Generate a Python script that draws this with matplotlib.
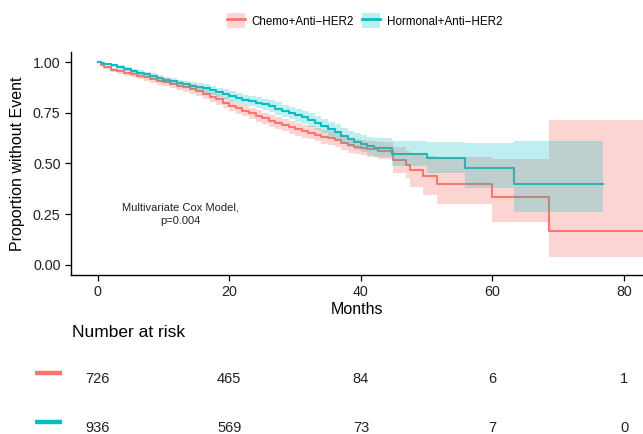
"""Kaplan-Meier style curves with a number-at-risk table."""

import matplotlib

matplotlib.use("Agg")

import matplotlib.pyplot as plt
from matplotlib.lines import Line2D
from matplotlib.patches import Patch

plt.rcParams["font.family"] = ["Liberation Sans", "DejaVu Sans"]

RED = "#F8766D"
TEAL = "#00BFC4"

groups = ["Chemo+Anti\u2212HER2", "Hormonal+Anti\u2212HER2"]

red_time = [0, 0.5, 1, 2, 3, 4, 5, 6, 7, 8, 9, 10, 11, 12, 13, 14, 15, 16, 17, 18,
            19, 20, 21, 22, 23, 24, 25, 26, 27, 28, 29, 30, 31, 32, 33, 34, 35, 36,
            37, 38, 39, 40, 41, 42.6, 44.9, 46.9, 47.5, 49.5, 51.5, 60, 68.6, 83]
red_surv = [1.0, 0.985, 0.975, 0.963, 0.955, 0.947, 0.94, 0.932, 0.925, 0.917,
            0.908, 0.90, 0.892, 0.884, 0.876, 0.867, 0.856, 0.843, 0.83, 0.816, 0.80,
            0.785, 0.772, 0.76, 0.747, 0.735, 0.722, 0.708, 0.698, 0.69, 0.678, 0.668,
            0.66, 0.652, 0.642, 0.632, 0.624, 0.615, 0.602, 0.59, 0.583, 0.578, 0.572,
            0.562, 0.516, 0.495, 0.47, 0.438, 0.40, 0.334, 0.166, 0.166]
red_lower = [1.0, 0.98, 0.967, 0.953, 0.943, 0.934, 0.926, 0.916, 0.908, 0.899,
             0.889, 0.88, 0.871, 0.862, 0.853, 0.843, 0.832, 0.818, 0.805, 0.79, 0.774,
             0.758, 0.745, 0.732, 0.719, 0.706, 0.693, 0.678, 0.668, 0.659, 0.647,
             0.636, 0.628, 0.619, 0.609, 0.598, 0.59, 0.58, 0.567, 0.554, 0.546, 0.54,
             0.533, 0.52, 0.451, 0.43, 0.386, 0.344, 0.30, 0.21, 0.041, 0.041]
red_upper = [1.0, 0.99, 0.983, 0.973, 0.967, 0.96, 0.954, 0.948, 0.942, 0.935,
             0.927, 0.92, 0.913, 0.906, 0.899, 0.891, 0.88, 0.868, 0.855, 0.842, 0.826,
             0.812, 0.799, 0.788, 0.775, 0.764, 0.751, 0.738, 0.728, 0.721, 0.709, 0.70,
             0.692, 0.685, 0.675, 0.666, 0.658, 0.65, 0.637, 0.626, 0.62, 0.616, 0.611,
             0.604, 0.58, 0.56, 0.55, 0.535, 0.53, 0.52, 0.715, 0.715]

teal_time = [0, 0.5, 1, 2, 3, 4, 5, 6, 7, 8, 9, 10, 11, 12, 13, 14, 15, 16, 17, 18,
             19, 20, 21, 22, 23, 24, 25, 26, 27, 28, 29, 30, 31, 32, 33, 34, 35, 36,
             37, 38, 39, 40, 41, 42, 44.7, 50, 55.9, 63.3, 76.8]
teal_surv = [1.0, 0.996, 0.992, 0.985, 0.975, 0.965, 0.957, 0.948, 0.939, 0.93,
             0.921, 0.912, 0.905, 0.897, 0.89, 0.884, 0.877, 0.87, 0.861, 0.852, 0.842,
             0.832, 0.823, 0.815, 0.808, 0.80, 0.791, 0.782, 0.771, 0.76, 0.749, 0.738,
             0.727, 0.715, 0.70, 0.685, 0.67, 0.655, 0.638, 0.62, 0.608, 0.598, 0.588,
             0.578, 0.549, 0.525, 0.479, 0.397, 0.397]
teal_lower = [1.0, 0.993, 0.986, 0.977, 0.966, 0.955, 0.946, 0.936, 0.926, 0.916,
              0.906, 0.896, 0.889, 0.88, 0.872, 0.865, 0.857, 0.849, 0.84, 0.83, 0.819,
              0.808, 0.799, 0.79, 0.782, 0.773, 0.763, 0.753, 0.741, 0.73, 0.718,
              0.706, 0.694, 0.681, 0.665, 0.649, 0.633, 0.617, 0.599, 0.58, 0.567,
              0.555, 0.543, 0.53, 0.49, 0.451, 0.378, 0.261, 0.261]
teal_upper = [1.0, 0.999, 0.998, 0.993, 0.984, 0.975, 0.968, 0.96, 0.952, 0.944,
              0.936, 0.928, 0.921, 0.914, 0.908, 0.903, 0.897, 0.891, 0.882, 0.874,
              0.865, 0.856, 0.847, 0.84, 0.834, 0.827, 0.819, 0.811, 0.801, 0.79, 0.78,
              0.77, 0.76, 0.749, 0.735, 0.721, 0.707, 0.693, 0.677, 0.66, 0.649, 0.641,
              0.633, 0.626, 0.61, 0.606, 0.60, 0.611, 0.611]

risk_times = [0, 20, 40, 60, 80]
risk_red = [726, 465, 84, 6, 1]
risk_teal = [936, 569, 73, 7, 0]

x_ticks = [0, 20, 40, 60, 80]
y_ticks = [0.0, 0.25, 0.5, 0.75, 1.0]

fig = plt.figure(figsize=(6.43, 4.34), dpi=100)
ax = fig.add_axes([0.1104, 0.3664, 0.8896, 0.5138])

# lines first, ribbons over them (as in the original)
ax.step(red_time, red_surv, where="post", color=RED, lw=1.5, zorder=2)
ax.step(teal_time, teal_surv, where="post", color=TEAL, lw=1.5, zorder=2)
ax.fill_between(red_time, red_lower, red_upper, step="post", color=RED,
                alpha=0.3, lw=0, zorder=3)
ax.fill_between(teal_time, teal_lower, teal_upper, step="post", color=TEAL,
                alpha=0.25, lw=0, zorder=3)

ax.set_xlim(-4.06, 82.88)
ax.set_ylim(-0.05, 1.05)
ax.set_xticks(x_ticks)
ax.set_yticks(y_ticks)
ax.set_yticklabels([f"{v:.2f}" for v in y_ticks])
ax.tick_params(labelsize=10.3, colors="black", labelcolor="#222222",
               length=4, width=0.9)
for side in ("top", "right"):
    ax.spines[side].set_visible(False)
for side in ("left", "bottom"):
    ax.spines[side].set_linewidth(1.0)
ax.set_xlabel("Months", fontsize=11.5, labelpad=2)
ax.set_ylabel("Proportion without Event", fontsize=11.5, labelpad=6)

ax.text(12.5, 0.25, "Multivariate Cox Model,\np=0.004", fontsize=8,
        ha="center", va="center", linespacing=1.5, color="#222222")

handles = [
    (Patch(facecolor=RED, alpha=0.3, lw=0), Line2D([], [], color=RED, lw=2)),
    (Patch(facecolor=TEAL, alpha=0.25, lw=0), Line2D([], [], color=TEAL, lw=2)),
]
fig.legend(handles, groups, loc="center", bbox_to_anchor=(0.567, 0.952), ncol=2,
           frameon=False, fontsize=8.4, handlelength=1.5, handleheight=1.6,
           handletextpad=0.6, columnspacing=0.7)

# number at risk table
risk = fig.add_axes([0.1104, 0.0, 0.8896, 0.25])
risk.set_xlim(ax.get_xlim())
risk.set_ylim(0, 1)
risk.axis("off")
risk.text(-3.9, 0.931, "Number at risk", fontsize=12.5, ha="left", va="center")
for counts, colour, row in ((risk_red, RED, 0.507), (risk_teal, TEAL, 0.055)):
    for t, n in zip(risk_times, counts):
        risk.text(t, row, str(n), fontsize=10.5, ha="center", va="center",
                  color="#222222")
    risk.plot([-9.53, -5.43], [row + 0.058, row + 0.058], color=colour, lw=3.2,
              solid_capstyle="butt", clip_on=False)

fig.savefig("out.png", dpi=100)
